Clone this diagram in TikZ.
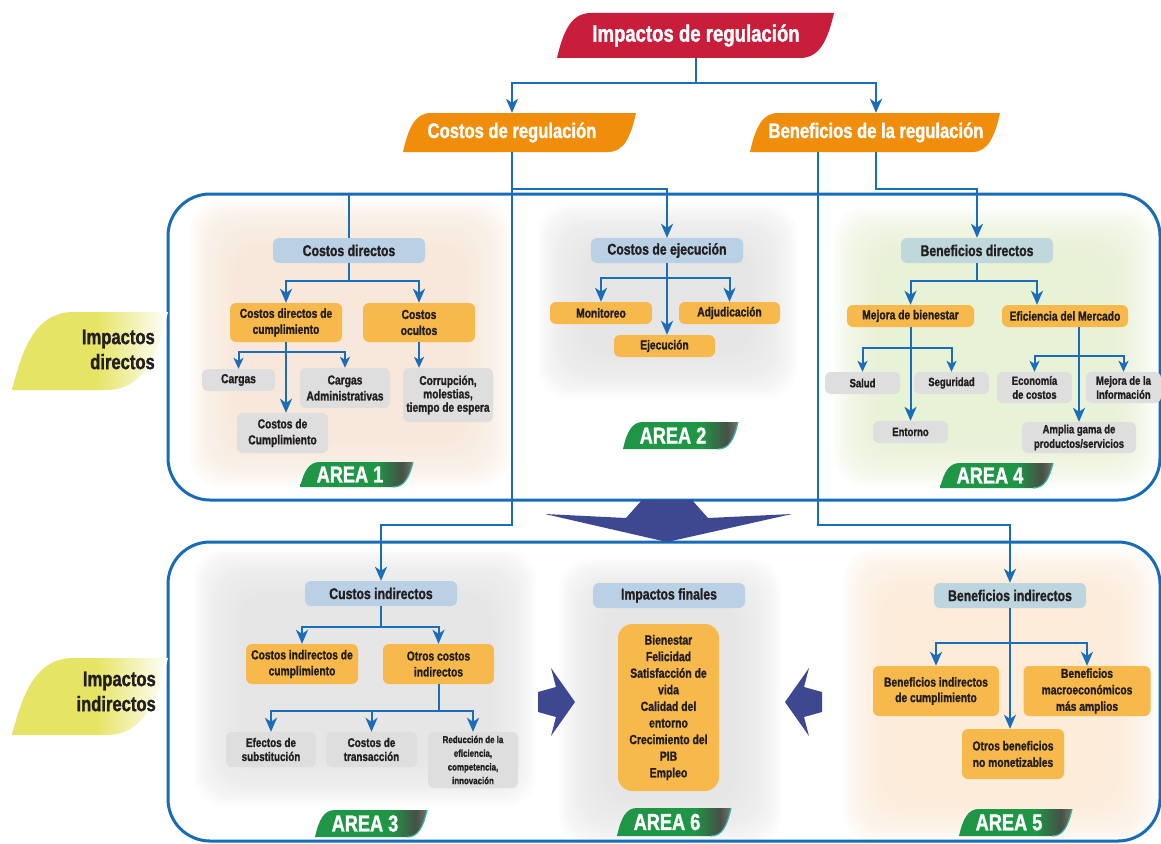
\documentclass[tikz,border=0pt]{standalone}
\usepackage{fontspec}
\setmainfont{Liberation Sans}[FakeStretch=0.79, BoldFeatures={FakeBold=1.3}]
\usetikzlibrary{arrows.meta,calc}

\definecolor{crimson}{RGB}{200,30,60}
\definecolor{horange}{RGB}{240,142,12}
\definecolor{hblue}{RGB}{186,208,228}
\definecolor{hteal}{RGB}{190,216,220}
\definecolor{nodeor}{RGB}{247,185,75}
\definecolor{nodegr}{RGB}{222,222,222}
\definecolor{lblue}{RGB}{26,110,185}
\definecolor{bblue}{RGB}{22,108,182}
\definecolor{navy}{RGB}{62,72,145}
\definecolor{bgreen}{RGB}{30,150,70}
\definecolor{bdark}{RGB}{70,80,70}
\definecolor{bgrey}{RGB}{115,118,105}
\definecolor{bteal}{RGB}{60,180,170}
\definecolor{lyel}{RGB}{230,228,100}
\definecolor{txt}{RGB}{35,31,32}
\definecolor{bgpeach}{RGB}{248,232,216}
\definecolor{bggrey}{RGB}{230,230,230}
\definecolor{bggreen}{RGB}{232,242,210}
\definecolor{bgpeachb}{RGB}{252,236,214}

\pgfdeclarehorizontalshading{badgeshade}{100bp}{color(0bp)=(bgreen); color(25bp)=(bgreen); color(59bp)=(bgreen); color(70bp)=(bdark); color(75bp)=(bgrey); color(100bp)=(bgrey)}
\pgfdeclarehorizontalshading{labelshade}{100bp}{color(0bp)=(lyel); color(25bp)=(lyel); color(52bp)=(lyel); color(75bp)=(white); color(100bp)=(white)}

% slanted leaf: sharp bottom-left and top-right, rounded top-left and bottom-right
\newcommand\leaf[6]{%
  \path[#1] (#2,#5) .. controls ({#2+0.2*#6},{#3+0.35*(#5-#3)}) and ({#2+0.45*#6},#3) .. ({#2+#6},#3)
    -- (#4,#3) .. controls ({#4-0.2*#6},{#5-0.35*(#5-#3)}) and ({#4-0.45*#6},#5) .. ({#4-#6},#5) -- cycle;}

% soft-edged panel behind each area
\newcommand\softbg[5]{%
  \foreach \k in {0,...,15}{%
    \fill[#1, fill opacity=0.11, rounded corners=30pt]
      ({#2+3.2*\k},{#3+3.2*\k}) rectangle ({#4-3.2*\k},{#5-3.2*\k});
  }}

% green "AREA n" tag
\newcommand\areabadge[6]{%
  \leaf{shade, shading=badgeshade}{#2}{#3}{#4}{#5}{20}
  \draw[bteal, line width=1.2pt] (#4,#3) .. controls ({#4-4},{#5-0.35*(#5-#3)}) and ({#4-9},#5) .. ({#4-20},#5);
  \node[badgetext] (#1) at ({#2+50},{(#3+#5)/2}) {#6};}

\tikzset{
  bigbox/.style={draw=bblue, line width=3pt, rounded corners=42pt, inner sep=0pt},
  toptext/.style={text=white, font=\fontsize{23.5}{26}\selectfont\bfseries, inner sep=0pt},
  subtext/.style={text=white, font=\fontsize{21}{24}\selectfont\bfseries, inner sep=0pt},
  sidetext/.style={text=txt, align=right, anchor=east, font=\fontsize{21}{25}\selectfont\bfseries, inner sep=0pt},
  badgetext/.style={text=white, font=\fontsize{23}{25}\selectfont\bfseries, inner sep=0pt},
  hdr/.style={fill=hblue, rounded corners=6pt, minimum width=152pt, minimum height=25pt, inner sep=1pt,
    text=txt, font=\fontsize{15.5}{17}\selectfont\bfseries},
  ornode/.style={fill=nodeor, rounded corners=6pt, inner sep=1pt, align=center, text=txt,
    font=\fontsize{13}{16}\selectfont\bfseries},
  grnode/.style={fill=nodegr, rounded corners=6pt, inner sep=1pt, align=center, text=txt,
    font=\fontsize{13}{16}\selectfont\bfseries},
  line/.style={draw=lblue, line width=2pt},
  conn/.style={line, -{Stealth[length=14pt,width=12pt,inset=4pt]}},
  sconn/.style={line, -{Stealth[length=11pt,width=10pt,inset=3pt]}},
}

\begin{document}
\begin{tikzpicture}[x=1pt, y=-1pt]
\useasboundingbox (0,0) rectangle (1161,843);
\fill[white] (0,0) rectangle (1161,843);

% soft area panels
\softbg{bgpeach}{190}{200}{510}{486}
\softbg{bggrey}{538}{204}{797}{398}
\softbg{bggreen}{834}{208}{1156}{486}
\softbg{bggrey}{194}{549}{536}{806}
\softbg{bggrey}{559}{559}{781}{846}
\softbg{bgpeachb}{844}{549}{1156}{844}

% two framed regions
\node[bigbox, minimum width=992pt, minimum height=306pt] (boxA) at (664,347) {};
\node[bigbox, minimum width=992pt, minimum height=299pt] (boxB) at (664,691.5) {};

% side labels
\leaf{shade, shading=labelshade}{12}{312}{168}{390}{62}
\leaf{shade, shading=labelshade}{12}{658}{168}{735}{62}
\node[sidetext] (ldir) at (155,349.5) {Impactos\\directos};
\node[sidetext] (lind) at (156,691.5) {Impactos\\indirectos};

% title bars
\leaf{fill=crimson}{557}{13}{834}{58}{34}
\leaf{fill=horange}{403}{113}{636}{152}{28}
\leaf{fill=horange}{750}{113}{1000}{152}{28}
\node[toptext, minimum height=45pt] (ir) at (696,35.5) {Impactos de regulación};
\node[subtext, minimum height=39pt] (cr) at (512,132.5) {Costos de regulación};
\node[subtext, minimum height=39pt] (br) at (876,132.5) {Beneficios de la regulación};

% big navy arrows
\fill[navy] (642,500) -- (692,500) -- (708,518) -- (792,514) -- (667,542) -- (545,514) -- (626,518) -- cycle;
\fill[navy] (538,692) -- (556,687) -- (551,668) -- (575,702) -- (551,736) -- (556,717) -- (538,712) -- cycle;
\fill[navy] (822,692) -- (804,687) -- (809,668) -- (785,702) -- (809,736) -- (804,717) -- (822,712) -- cycle;

% AREA 1
\node[hdr] (cd) at (349,250.5) {Costos directos};
\node[ornode, minimum width=112pt, minimum height=39pt] (cdc) at (286,322.5) {Costos directos de\\cumplimiento};
\node[ornode, minimum width=112pt, minimum height=39pt] (coc) at (419,322.5) {Costos\\ocultos};
\node[grnode, minimum width=73pt, minimum height=22pt] (car) at (238.5,380) {Cargas};
\node[grnode, minimum width=90pt, minimum height=40pt] (cad) at (345,388) {Cargas\\Administrativas};
\node[grnode, minimum width=91pt, minimum height=40pt] (ccu) at (282.5,433) {Costos de\\Cumplimiento};
\node[grnode, minimum width=90pt, minimum height=54pt, font=\fontsize{12.8}{13.4}\selectfont\bfseries] (cor) at (448,395) {Corrupción,\\molestias,\\tiempo de espera};
\areabadge{a1}{300}{462}{413}{487}{AREA 1}

% AREA 2
\node[hdr] (ce) at (667,250.5) {Costos de ejecución};
\node[ornode, minimum width=102pt, minimum height=22pt] (mon) at (601,313) {Monitoreo};
\node[ornode, minimum width=101pt, minimum height=22pt] (adj) at (729.5,313) {Adjudicación};
\node[ornode, minimum width=101pt, minimum height=22pt] (eje) at (664.5,346) {Ejecución};
\areabadge{a2}{623}{422}{738}{449}{AREA 2}

% AREA 4
\node[hdr, fill=hteal] (bd) at (977,250.5) {Beneficios directos};
\node[ornode, minimum width=127pt, minimum height=22pt] (mb) at (910.5,316) {Mejora de bienestar};
\node[ornode, minimum width=126pt, minimum height=22pt] (em) at (1065,316) {Eficiencia del Mercado};
\node[grnode, minimum width=75pt, minimum height=22pt, font=\fontsize{12}{14}\selectfont\bfseries] (sal) at (862.5,383) {Salud};
\node[grnode, minimum width=75pt, minimum height=22pt, font=\fontsize{12}{14}\selectfont\bfseries] (seg) at (951.5,383) {Seguridad};
\node[grnode, minimum width=75pt, minimum height=22pt, font=\fontsize{12}{14}\selectfont\bfseries] (ent) at (910.5,432) {Entorno};
\node[grnode, minimum width=75pt, minimum height=31pt, font=\fontsize{12}{14}\selectfont\bfseries] (eco) at (1034.5,387.5) {Economía\\de costos};
\node[grnode, minimum width=75pt, minimum height=31pt, font=\fontsize{12}{14}\selectfont\bfseries] (inf) at (1123.5,387.5) {Mejora de la\\Información};
\node[grnode, minimum width=114pt, minimum height=31pt, font=\fontsize{12}{14.5}\selectfont\bfseries] (ag) at (1079,437.5) {Amplia gama de\\productos/servicios};
\areabadge{a4}{940}{463}{1053}{488}{AREA 4}

% AREA 3
\node[hdr] (ci) at (381,593.5) {Custos indirectos};
\node[ornode, minimum width=112pt, minimum height=40pt] (cic) at (302,664) {Costos indirectos de\\cumplimiento};
\node[ornode, minimum width=111pt, minimum height=40pt] (oci) at (438.5,664) {Otros costos\\indirectos};
\node[grnode, minimum width=90pt, minimum height=35pt, font=\fontsize{12.5}{14}\selectfont\bfseries] (efe) at (271,749.5) {Efectos de\\substitución};
\node[grnode, minimum width=91pt, minimum height=35pt, font=\fontsize{12.5}{14}\selectfont\bfseries] (tra) at (371.5,749.5) {Costos de\\transacción};
\node[grnode, minimum width=90pt, minimum height=56pt, font=\fontsize{10}{13.7}\selectfont\bfseries] (red) at (473,760) {Reducción de la\\eficiencia,\\competencia,\\innovación};
\areabadge{a3}{315}{810}{427}{837}{AREA 3}

% AREA 6
\node[hdr] (ifi) at (669,595.5) {Impactos finales};
\node[ornode, minimum width=101pt, minimum height=167pt, rounded corners=14pt, font=\fontsize{13.2}{16.6}\selectfont\bfseries] (fin) at (668.5,707.5)
  {Bienestar\\Felicidad\\Satisfacción de\\vida\\Calidad del\\entorno\\Crecimiento del\\PIB\\Empleo};
\areabadge{a6}{617}{808}{731}{836}{AREA 6}

% AREA 5
\node[hdr, fill=hteal!60!hblue] (bi) at (1010,595.5) {Beneficios indirectos};
\node[ornode, minimum width=126pt, minimum height=50pt, font=\fontsize{13}{15.5}\selectfont\bfseries] (bic) at (936,691) {Beneficios indirectos\\de cumplimiento};
\node[ornode, minimum width=127pt, minimum height=50pt, font=\fontsize{13}{16.5}\selectfont\bfseries] (bma) at (1087,691) {Beneficios\\macroeconómicos\\más amplios};
\node[ornode, minimum width=102pt, minimum height=50pt, font=\fontsize{13}{16.5}\selectfont\bfseries] (obn) at (1013,754) {Otros beneficios\\no monetizables};
\areabadge{a5}{959}{809}{1072}{836}{AREA 5}

% connectors: top level
\coordinate (lvl) at (0,525);
\coordinate (brL) at ([xshift=-58pt]br.south);
\coordinate (emt) at ([xshift=-28pt]em.north);
\draw[conn] (ir.south) -- ++(0,25) -| (cr.north);
\draw[conn] (ir.south) -- ++(0,25) -| (br.north);
\draw[conn] (cr.south) -- ++(0,37) -| (ce.north);
\draw[conn] (br.south) -- ++(0,37) -| (bd.north);
\draw[conn] (cr.south) -- (cr.south |- lvl) -| (ci.north);
\draw[conn] (brL) -- (brL |- lvl) -| (bi.north);

% connectors: area 1
\draw[line] (boxA.north -| cd.north) -- (cd.north);
\draw[conn] (cd.south) -- ++(0,18) -| (cdc.north);
\draw[conn] (cd.south) -- ++(0,18) -| (coc.north);
\draw[sconn] (cdc.south) -- ++(0,10) -| (car.north);
\draw[sconn] (cdc.south) -- ++(0,10) -| (cad.north);
\draw[conn] (cdc.south) -- (cdc.south |- ccu.north);
\draw[sconn] (coc.south) -- (coc.south |- cor.north);

% connectors: area 2
\draw[conn] (ce.south) -- ++(0,15) -| (mon.north);
\draw[conn] (ce.south) -- ++(0,15) -| (adj.north);
\draw[conn] (ce.south) -- (ce.south |- eje.north);

% connectors: area 4
\draw[conn] (bd.south) -- ++(0,18) -| (mb.north);
\draw[conn] (bd.south) -- ++(0,18) -| (emt);
\draw[conn] (mb.south) -- (mb.south |- ent.north);
\draw[sconn] (mb.south) -- ++(0,21) -| (sal.north);
\draw[sconn] (mb.south) -- ++(0,21) -| (seg.north);
\coordinate (emb) at (ag.north |- em.south);
\draw[conn] (emb) -- (ag.north);
\draw[sconn] (emb) -- ++(0,29) -| (eco.north);
\draw[sconn] (emb) -- ++(0,29) -| (inf.north);

% connectors: area 3
\draw[conn] (ci.south) -- ++(0,21) -| (cic.north);
\draw[conn] (ci.south) -- ++(0,21) -| (oci.north);
\draw[conn] (oci.south) -- ++(0,27) -| (efe.north);
\draw[conn] (oci.south) -- ++(0,27) -| (tra.north);
\draw[conn] (oci.south) -- ++(0,27) -| (red.north);

% connectors: area 5
\draw[conn] (bi.south) -- ++(0,35) -| (bic.north);
\draw[conn] (bi.south) -- ++(0,35) -| (bma.north);
\draw[conn] (bi.south) -- (bi.south |- obn.north);
\end{tikzpicture}
\end{document}
